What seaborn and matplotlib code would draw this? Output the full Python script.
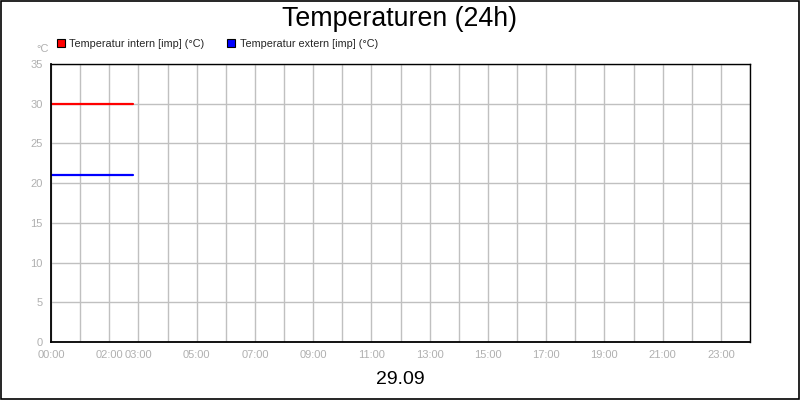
import matplotlib
matplotlib.use("Agg")
import matplotlib.pyplot as plt
from matplotlib.patches import Patch, Rectangle
import seaborn as sns
import pandas as pd

# Data
hours = [0.0, 0.5, 1.0, 1.5, 2.0, 2.5, 2.8]
temp_intern = [30, 30, 30, 30, 30, 30, 30]
temp_extern = [21, 21, 21, 21, 21, 21, 21]
series_names = ["Temperatur intern [imp] (°C)", "Temperatur extern [imp] (°C)"]
series_colors = ["#ff0000", "#0000ff"]
tick_hours = list(range(0, 25))
label_hours = [0, 2, 3, 5, 7, 9, 11, 13, 15, 17, 19, 21, 23]
y_ticks = [0, 5, 10, 15, 20, 25, 30, 35]
title = "Temperaturen (24h)"
date_label = "29.09"
unit_label = "°C"

df = pd.DataFrame({
    "hour": hours * 2,
    "temp": temp_intern + temp_extern,
    "series": [series_names[0]] * len(hours) + [series_names[1]] * len(hours),
})

sns.set_style("white")
plt.rcParams['font.family'] = ['Liberation Sans', 'DejaVu Sans']

fig = plt.figure(figsize=(8, 4), dpi=100)
ax = fig.add_axes([51/800, 1 - 342/400, 699/800, 278/400])

sns.lineplot(data=df, x="hour", y="temp", hue="series",
             palette=dict(zip(series_names, series_colors)),
             linewidth=1.6, ax=ax, legend=False)

ax.set_xlim(0, 24)
ax.set_ylim(0, 35)
ax.set_xticks(tick_hours)
ax.set_xticklabels([f"{h:02d}:00" if h in label_hours else "" for h in tick_hours])
ax.set_yticks(y_ticks)
ax.set_yticklabels([str(v) for v in y_ticks])
ax.grid(True, color="#c0c0c0", linewidth=1)
ax.set_axisbelow(True)
ax.set_xlabel("")
ax.set_ylabel("")
ax.tick_params(axis="both", which="both", direction="out", length=4,
               color="#a0a0a0", labelcolor="#b0b0b0", labelsize=8, width=1, pad=2)
for s in ax.spines.values():
    s.set_visible(True)
    s.set_color("black")
    s.set_linewidth(1)
ax.spines["bottom"].set_linewidth(1.3)
ax.spines["left"].set_linewidth(1.3)

handles = [Patch(facecolor=c, edgecolor="black", linewidth=0.8) for c in series_colors]
fig.legend(handles, series_names, loc="center left",
           bbox_to_anchor=(57/800, 1 - 44/400), ncol=2, frameon=False,
           fontsize=7.8, handlelength=0.75, handleheight=0.75,
           handletextpad=0.4, columnspacing=2.1, borderaxespad=0, borderpad=0)

fig.text(400/800, 1 - 19/400, title, ha="center", va="center", fontsize=19.3, color="black")
fig.text(400/800, 1 - 379/400, date_label, ha="center", va="center", fontsize=14, color="black")
fig.text(43/800, 1 - 49/400, unit_label, ha="center", va="center", fontsize=8, color="#b0b0b0")

fig.patches.append(Rectangle((0.0008, 0.0015), 0.9985, 0.997, transform=fig.transFigure,
                             fill=False, edgecolor="black", linewidth=1.2))

fig.savefig("out.png", dpi=100, facecolor="white")
